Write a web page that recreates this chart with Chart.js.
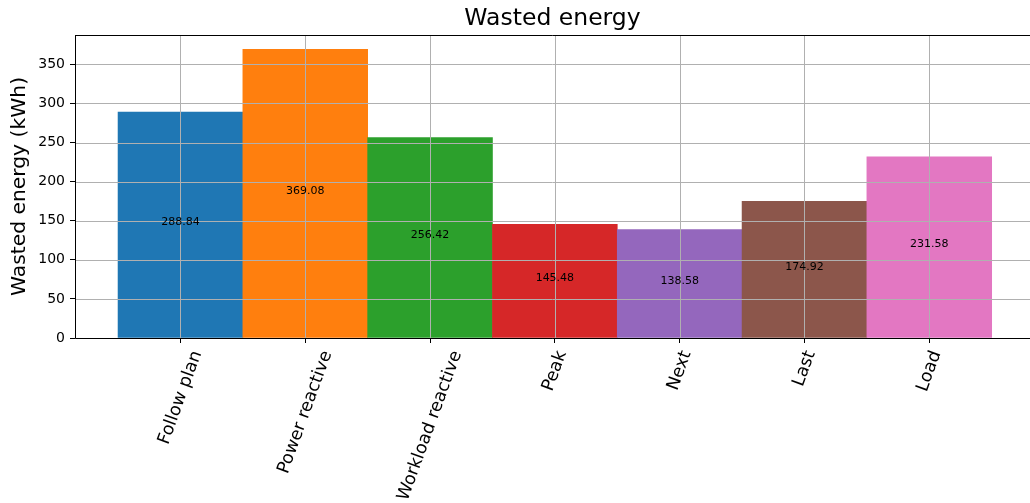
<!DOCTYPE html>
<html>
<head>
<meta charset="utf-8">
<script src="https://cdn.jsdelivr.net/npm/chart.js@4/dist/chart.umd.min.js"></script>
<style>
  html, body { margin: 0; padding: 0; background: #fff; }
  #wrap { width: 1030px; height: 503px; }
</style>
</head>
<body>
<div id="wrap"><canvas id="energyChart" width="1030" height="503"></canvas></div>
<script>
const categories = ["Follow plan", "Power reactive", "Workload reactive", "Peak", "Next", "Last", "Load"];
const wastedEnergy = [288.84, 369.08, 256.42, 145.48, 138.58, 174.92, 231.58];
const barColors = ["#1f77b4", "#ff7f0e", "#2ca02c", "#d62728", "#9467bd", "#8c564b", "#e377c2"];
const yTicks = [0, 50, 100, 150, 200, 250, 300, 350];

const FONT = "'DejaVu Sans', sans-serif";

// grid over the bars, value labels, rotated category labels, spines
const overlay = {
    id: "overlay",
    afterDatasetsDraw(chart) {
        const ctx = chart.ctx;
        const area = chart.chartArea;
        const xs = chart.scales.x;
        const ys = chart.scales.y;

        ctx.save();
        ctx.strokeStyle = "#b0b0b0";
        ctx.lineWidth = 1;
        yTicks.forEach(t => {
            const y = Math.round(ys.getPixelForValue(t)) + 0.5;
            ctx.beginPath();
            ctx.moveTo(area.left, y);
            ctx.lineTo(area.right, y);
            ctx.stroke();
        });
        categories.forEach((c, i) => {
            const x = Math.round(xs.getPixelForValue(i)) + 0.5;
            ctx.beginPath();
            ctx.moveTo(x, area.top);
            ctx.lineTo(x, area.bottom);
            ctx.stroke();
        });

        ctx.fillStyle = "#000";
        ctx.font = "11px " + FONT;
        ctx.textAlign = "center";
        ctx.textBaseline = "alphabetic";
        wastedEnergy.forEach((v, i) => {
            ctx.fillText(v.toFixed(2), xs.getPixelForValue(i), ys.getPixelForValue(v / 2));
        });

        // left, top and bottom spines; the right one falls just outside the picture
        ctx.strokeStyle = "#000";
        const l = Math.round(area.left) + 0.5;
        const t = Math.round(area.top) + 0.5;
        const b = Math.round(ys.getPixelForValue(0)) + 0.5;
        ctx.beginPath();
        ctx.moveTo(area.right, t);
        ctx.lineTo(l, t);
        ctx.lineTo(l, b);
        ctx.lineTo(area.right, b);
        ctx.stroke();
        ctx.restore();
    },
    afterDraw(chart) {
        const ctx = chart.ctx;
        const xs = chart.scales.x;
        const size = 17.5;
        const angle = 70 * Math.PI / 180;
        const top = chart.chartArea.bottom + 10;

        ctx.save();
        ctx.fillStyle = "#000";
        ctx.font = size + "px " + FONT;
        ctx.textAlign = "center";
        ctx.textBaseline = "middle";
        categories.forEach((c, i) => {
            const w = ctx.measureText(c).width;
            const h = size * 1.16;
            const boxH = w * Math.sin(angle) + h * Math.cos(angle);
            ctx.save();
            ctx.translate(xs.getPixelForValue(i), top + boxH / 2);
            ctx.rotate(-angle);
            ctx.fillText(c, 0, 0);
            ctx.restore();
        });
        ctx.restore();
    }
};

new Chart(document.getElementById("energyChart"), {
    type: "bar",
    data: {
        datasets: [{
            label: "Wasted energy",
            data: wastedEnergy.map((v, i) => ({ x: i, y: v })),
            backgroundColor: barColors,
            borderWidth: 0,
            barPercentage: 1,
            categoryPercentage: 1
        }]
    },
    options: {
        responsive: false,
        animation: false,
        devicePixelRatio: 1,
        layout: { padding: { left: 0, right: 0, top: 0, bottom: 0 } },
        plugins: {
            legend: { display: false },
            tooltip: { enabled: false },
            title: {
                display: true,
                fullSize: false,
                text: "Wasted energy",
                color: "#000",
                font: { family: FONT, size: 23.5, weight: "normal", lineHeight: 1.2 },
                padding: { top: 5, bottom: 1.8 }
            }
        },
        scales: {
            x: {
                type: "linear",
                min: -0.845,
                max: 6.807,
                offset: false,
                afterBuildTicks: scale => {
                    scale.ticks = categories.map((c, i) => ({ value: i }));
                },
                afterFit: scale => { scale.height = 165; },
                ticks: { display: false },
                grid: { offset: false, drawOnChartArea: false, drawTicks: true, tickLength: 5, tickColor: "#000", tickWidth: 1 },
                border: { display: true, color: "#000", width: 1 }
            },
            y: {
                min: 0,
                max: 387.53,
                afterBuildTicks: scale => {
                    scale.ticks = yTicks.map(v => ({ value: v }));
                },
                afterFit: scale => { scale.width = 75; },
                ticks: {
                    color: "#000",
                    padding: 5,
                    font: { family: FONT, size: 14 }
                },
                grid: { drawOnChartArea: false, drawTicks: true, tickLength: 5, tickColor: "#000", tickWidth: 1 },
                border: { display: true, color: "#000", width: 1 },
                title: {
                    display: true,
                    text: "Wasted energy (kWh)",
                    color: "#000",
                    font: { family: FONT, size: 20.3, lineHeight: 1.2 },
                    padding: { top: 8, bottom: 0 }
                }
            }
        }
    },
    plugins: [overlay]
});
</script>
</body>
</html>
